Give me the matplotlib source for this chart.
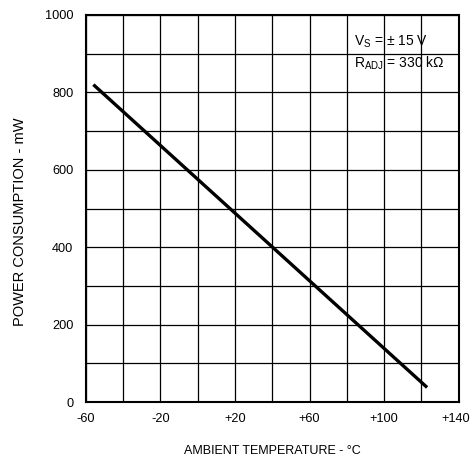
import numpy as np
import matplotlib
matplotlib.use('Agg')
import matplotlib.pyplot as plt
import matplotlib.transforms as mtransforms

# power consumption vs ambient temperature
temp = [-56, 123]
power = [820, 38]

xticks = [-60, -20, 20, 60, 100, 140]
xlabels = ['-60', '-20', '+20', '+60', '+100', '+140']
yticks = [0, 200, 400, 600, 800, 1000]

plt.rcParams['font.family'] = ['Liberation Sans', 'DejaVu Sans']
plt.rcParams['mathtext.fontset'] = 'custom'
plt.rcParams['mathtext.rm'] = 'Liberation Sans'

fig = plt.figure(figsize=(4.72, 4.66), dpi=100)
ax = fig.add_axes([0.182, 0.137, 0.790, 0.831])

ax.plot(temp, power, color='black', linewidth=2.4, solid_capstyle='butt')

ax.set_xlim(-60, 140)
ax.set_ylim(0, 1000)
ax.set_xticks(np.arange(-60, 141, 20), minor=True)
ax.set_yticks(np.arange(0, 1001, 100), minor=True)
ax.set_xticks(xticks)
ax.set_xticklabels(xlabels)
ax.set_yticks(yticks)
ax.grid(True, which='both', color='black', linewidth=0.9)
ax.tick_params(which='both', length=0, labelsize=9.2)
ax.tick_params(axis='x', pad=8)
ax.tick_params(axis='y', pad=9)
for s in ax.spines.values():
    s.set_linewidth(1.5)

# nudge the last x label so it stays inside the figure
last = ax.get_xticklabels()[-1]
last.set_transform(last.get_transform() +
                   mtransforms.ScaledTranslation(-3 / 100, 0, fig.dpi_scale_trans))

ax.text(84, 930, 'V$_\\mathregular{S}$ = $\\pm$ 15 V', fontsize=10, va='center')
ax.text(84, 874, 'R$_\\mathregular{ADJ}$ = 330 k$\\Omega$', fontsize=10, va='center')

ax.set_xlabel('AMBIENT TEMPERATURE - °C', fontsize=9, labelpad=14)
ax.set_ylabel('POWER CONSUMPTION - mW', fontsize=10.5, labelpad=13)
ax.yaxis.set_label_coords(-0.158, 0.465)

fig.savefig('out.png', dpi=100)
